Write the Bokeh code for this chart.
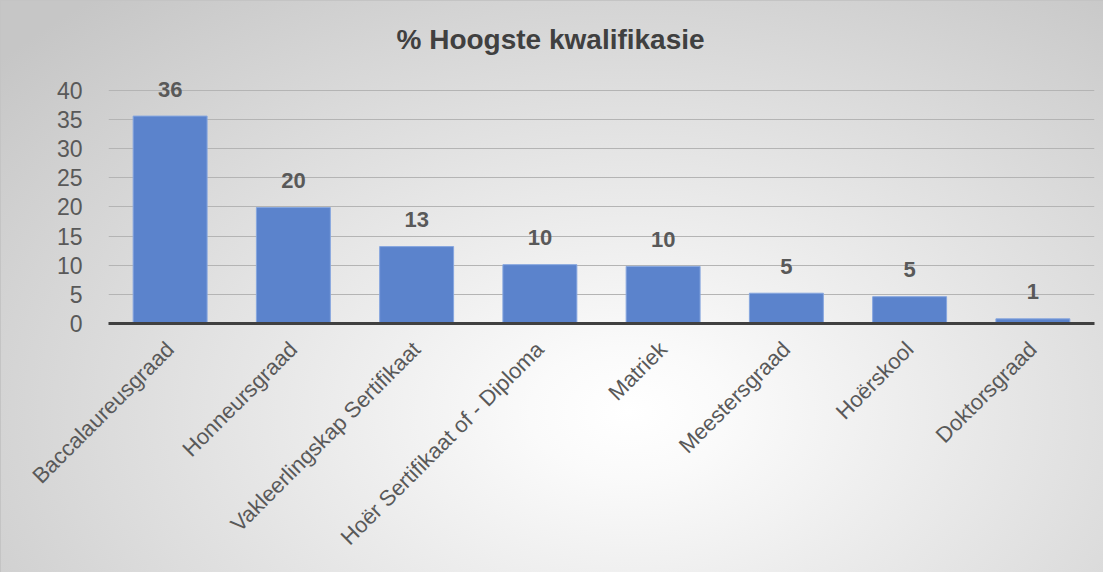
from bokeh.plotting import figure
from bokeh.models import ColumnDataSource, FactorRange, Range1d, Title
from bokeh.core.properties import value
from bokeh.embed import file_html
from bokeh.resources import INLINE
import math

categories = ["Baccalaureusgraad", "Honneursgraad", "Vakleerlingskap Sertifikaat",
              "Hoër Sertifikaat of - Diploma", "Matriek", "Meestersgraad",
              "Hoërskool", "Doktorsgraad"]
percentages = [35.6, 19.9, 13.2, 10.1, 9.8, 5.2, 4.6, 0.8]
value_labels = ["36", "20", "13", "10", "10", "5", "5", "1"]
y_ticks = [0, 5, 10, 15, 20, 25, 30, 35, 40]

FONT = "Liberation Sans"

source = ColumnDataSource(dict(cat=categories, val=percentages, lab=value_labels))

# y range extends above 40 so the data labels are not clipped; grid/ticks stop at 40
p = figure(width=1103, height=572, output_backend="svg", toolbar_location=None,
           x_range=FactorRange(*categories, range_padding=0),
           y_range=Range1d(0, 46), tools="")

p.min_border_left = 107
p.min_border_right = 10
p.min_border_top = 54
p.min_border_bottom = 250

p.border_fill_color = None
p.background_fill_color = None
p.outline_line_color = None
p.styles = {
    "background": "radial-gradient(ellipse 75% 95% at 57% 72%, #ffffff 0%, #fafafa 12%, #c6c6c6 100%)",
    "border-top": "1px solid #c4c4c4",
    "border-left": "1px solid #c4c4c4",
}

p.title = Title(text="% Hoogste kwalifikasie", align="left", offset=288,
                text_font=FONT, text_font_size="28px", text_font_style="bold",
                text_color="#404040", standoff=2)

p.vbar(x="cat", top="val", width=0.6, source=source,
       fill_color="#5B83CC", line_color="#86a6df", line_width=1)

p.text(x="cat", y="val", text="lab", source=source,
       text_font=value(FONT), text_font_size="22px", text_font_style="bold",
       text_color="#595959", text_align="center", text_baseline="alphabetic",
       y_offset=-27)

p.xgrid.grid_line_color = None
p.ygrid.grid_line_color = "#b4b4b4"
p.ygrid.grid_line_width = 1
p.ygrid.ticker = y_ticks

p.yaxis.ticker = y_ticks
p.yaxis.axis_line_color = None
p.yaxis.major_tick_line_color = None
p.yaxis.minor_tick_line_color = None
p.yaxis.major_label_text_font = FONT
p.yaxis.major_label_text_font_size = "23px"
p.yaxis.major_label_text_color = "#595959"
p.yaxis.major_label_standoff = 20

p.xaxis.axis_line_color = "#404040"
p.xaxis.axis_line_width = 3
p.xaxis.major_tick_line_color = None
p.xaxis.minor_tick_line_color = None
p.xaxis.major_label_orientation = math.pi / 4
p.xaxis.major_label_text_font = FONT
p.xaxis.major_label_text_font_size = "22px"
p.xaxis.major_label_text_color = "#595959"
p.xaxis.major_label_standoff = 16

open("out.html", "w").write(file_html(p, INLINE))
